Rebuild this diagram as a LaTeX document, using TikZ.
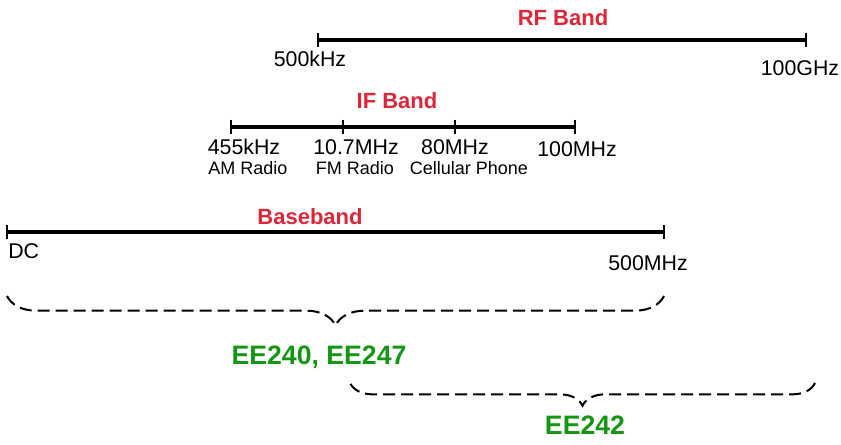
\documentclass[tikz,border=0pt]{standalone}
\usepackage{fontspec}
\setmainfont{Liberation Sans}
\usetikzlibrary{decorations.pathreplacing}
\definecolor{bandred}{RGB}{220,38,58}
\definecolor{coursegreen}{RGB}{20,150,20}
\begin{document}
\begin{tikzpicture}[x=0.75pt,y=-0.75pt,
  band/.style={line width=2.4pt},
  tickmark/.style={line width=1.6pt},
  lbl/.style={font=\fontsize{16}{17}\selectfont, inner sep=0pt},
  sublbl/.style={font=\fontsize{13.5}{14}\selectfont, inner sep=0pt},
  title/.style={font=\bfseries\fontsize{16.5}{17}\selectfont, text=bandred, inner sep=0pt},
  course/.style={font=\bfseries\fontsize{20}{21}\selectfont, text=coursegreen, inner sep=0pt},
  bracestyle/.style={decorate, decoration={brace, amplitude=#1, aspect=0.5}, line width=1.5pt, dash pattern=on 9pt off 4.5pt},
  bracestyle/.default=22pt]
\useasboundingbox (0,0) rectangle (841,444);
% RF band
\coordinate (rfL) at (318,40);
\coordinate (rfR) at (806,40);
\draw[band] (rfL) -- (rfR);
\draw[tickmark] ([yshift=5.5pt]rfL) -- ([yshift=-5.5pt]rfL);
\draw[tickmark] ([yshift=5.5pt]rfR) -- ([yshift=-5.5pt]rfR);
\node[title] (rft) at (563,18) {RF Band};
\node[lbl] (rf1) at (310,59) {500kHz};
\node[lbl] (rf2) at (800,68) {100GHz};
% IF band
\coordinate (ifA) at (231,127);
\coordinate (ifB) at (343,127);
\coordinate (ifC) at (455,127);
\coordinate (ifD) at (575,127);
\draw[band] (ifA) -- (ifD);
\foreach \c in {ifA,ifB,ifC,ifD}
  \draw[tickmark] ([yshift=5.5pt]\c) -- ([yshift=-5.5pt]\c);
\node[title] (ift) at (397,101) {IF Band};
\node[lbl] (if1) at (244,147) {455kHz};
\node[lbl] (if2) at (356,147) {10.7MHz};
\node[lbl] (if3) at (455,147) {80MHz};
\node[lbl] (if4) at (577,149) {100MHz};
\node[sublbl] (is1) at (248,168) {AM Radio};
\node[sublbl] (is2) at (355,168) {FM Radio};
\node[sublbl] (is3) at (469,168) {Cellular Phone};
% Baseband
\coordinate (bbL) at (7,232);
\coordinate (bbR) at (664,232);
\draw[band] (bbL) -- (bbR);
\draw[tickmark] ([yshift=5.5pt]bbL) -- ([yshift=-5.5pt]bbL);
\draw[tickmark] ([yshift=5.5pt]bbR) -- ([yshift=-5.5pt]bbR);
\node[title] (bbt) at (310,217) {Baseband};
\node[lbl, anchor=west] (bb1) at (8,251) {DC};
\node[lbl] (bb2) at (648,263) {500MHz};
% braces
\coordinate (b1L) at (7,296);
\coordinate (b1R) at (664,296);
\coordinate (b2L) at (350,383);
\coordinate (b2R) at (815,383);
\draw[bracestyle] (b1R) -- (b1L);
\draw[bracestyle=17pt] (b2R) -- (b2L);
\node[course] (c1) at (319,357) {EE240, EE247};
\node[course] (c2) at (585,425) {EE242};
\end{tikzpicture}
\end{document}
